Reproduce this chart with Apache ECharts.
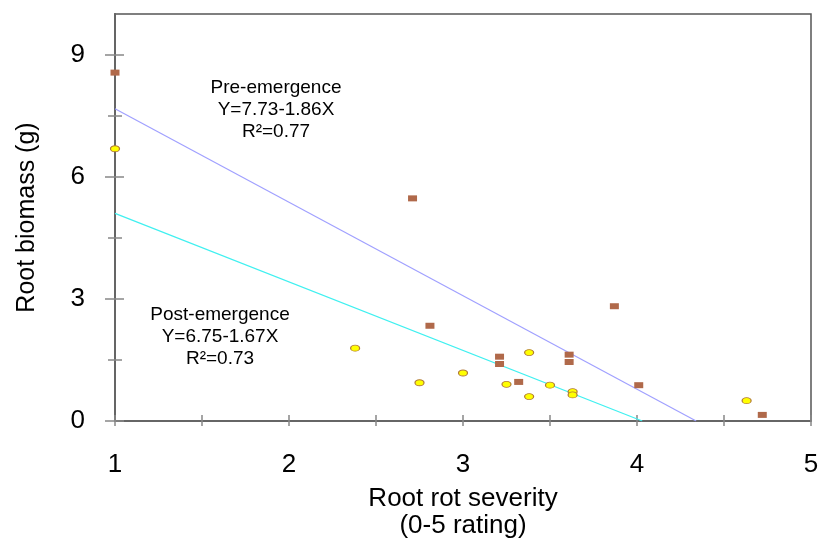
<!DOCTYPE html>
<html>
<head>
<meta charset="utf-8">
<script src="https://cdn.jsdelivr.net/npm/echarts@6/dist/echarts.min.js"></script>
<style>
  html, body { margin: 0; padding: 0; background: #fff; }
  #chart { width: 824px; height: 545px; }
</style>
</head>
<body>
<div id="chart"></div>
<script>
// pre-emergence points (squares)
var preX = [1.00, 2.71, 2.81, 3.21, 3.21, 3.32, 3.61, 3.61, 3.87, 4.01, 4.72];
var preY = [8.56, 5.47, 2.34, 1.58, 1.40, 0.96, 1.63, 1.45, 2.82, 0.88, 0.15];
// post-emergence points (circles)
var postX = [1.00, 2.38, 2.75, 3.00, 3.25, 3.38, 3.38, 3.50, 3.63, 3.63, 4.63];
var postY = [6.69, 1.79, 0.94, 1.18, 0.90, 1.68, 0.60, 0.88, 0.72, 0.64, 0.50];
// fitted lines as drawn
var preLine = [[1, 7.67], [4.34, 0]];
var postLine = [[1, 5.10], [4.03, 0]];

var xMajor = [1, 2, 3, 4, 5];
var xTicks = [1, 1.5, 2, 2.5, 3, 3.5, 4, 4.5, 5];
var yMajor = [0, 3, 6, 9];
var yMinor = [1.5, 4.5, 7.5];

var axisGray = '#666';
var tickGray = '#888';
var font = 'Liberation Sans, Arial, sans-serif';

function zip(xs, ys) {
  return xs.map(function (x, i) { return [x, ys[i]]; });
}

function yAx(ticks, inside, len, extra) {
  var a = {
    type: 'value', min: 0, max: 10, position: 'left',
    axisLine: { show: true, onZero: false, lineStyle: { color: axisGray, width: 1.5 } },
    axisTick: { show: true, inside: inside, length: len, customValues: ticks, lineStyle: { color: tickGray, width: 1.5 } },
    axisLabel: { show: false },
    splitLine: { show: false }
  };
  return Object.assign(a, extra || {});
}

function xAx(inside, len, extra) {
  var a = {
    type: 'value', min: 1, max: 5, position: 'bottom',
    axisLine: { show: true, onZero: false, lineStyle: { color: axisGray, width: 1.5 } },
    axisTick: { show: true, inside: inside, length: len, customValues: xTicks, lineStyle: { color: tickGray, width: 1.5 } },
    axisLabel: { show: false },
    splitLine: { show: false }
  };
  return Object.assign(a, extra || {});
}

function note(cx, top, text) {
  return {
    type: 'text', x: cx, y: top, z: 10,
    style: {
      text: text, x: 0, y: 0, align: 'center', verticalAlign: 'top',
      font: '19px ' + font, lineHeight: 22, fill: '#000'
    }
  };
}

var chart = echarts.init(document.getElementById('chart'));

var option = {
  backgroundColor: '#fff',
  animation: false,
  grid: {
    left: 115, right: 13, top: 14, bottom: 124,
    show: true, borderColor: '#555', borderWidth: 1.5, backgroundColor: '#fff'
  },
  xAxis: [
    xAx(true, 6, {
      name: 'Root rot severity\n(0-5 rating)',
      nameLocation: 'middle',
      nameGap: 64,
      nameTextStyle: { fontFamily: font, fontSize: 26, color: '#000', lineHeight: 27 },
      axisLabel: {
        show: true, customValues: xMajor, margin: 31,
        fontFamily: font, fontSize: 26, color: '#000'
      }
    }),
    xAx(false, 5)
  ],
  yAxis: [
    yAx(yMajor, true, 9, {
      name: 'Root biomass (g)',
      nameLocation: 'middle',
      nameGap: 75,
      nameTextStyle: { fontFamily: font, fontSize: 25, color: '#000' },
      axisLabel: {
        show: true, customValues: yMajor, margin: 30,
        fontFamily: font, fontSize: 26, color: '#000'
      }
    }),
    yAx(yMajor, false, 10),
    yAx(yMinor, true, 7),
    yAx(yMinor, false, 7)
  ],
  graphic: [
    note(276, 77, 'Pre-emergence\nY=7.73-1.86X\nR²=0.77'),
    note(220, 304, 'Post-emergence\nY=6.75-1.67X\nR²=0.73')
  ],
  series: [
    {
      name: 'Pre-emergence fit', type: 'line', data: preLine,
      symbol: 'none', silent: true,
      lineStyle: { color: '#a0a0ff', width: 1.2 }, z: 2
    },
    {
      name: 'Post-emergence fit', type: 'line', data: postLine,
      symbol: 'none', silent: true,
      lineStyle: { color: '#40f0f0', width: 1.2 }, z: 2
    },
    {
      name: 'Pre-emergence', type: 'scatter', data: zip(preX, preY),
      symbol: 'rect', symbolSize: [9, 6],
      itemStyle: { color: '#b0694a', opacity: 1 }, z: 3
    },
    {
      name: 'Post-emergence', type: 'scatter', data: zip(postX, postY),
      symbol: 'path://M0,1A1,1 0 1,0 2,1A1,1 0 1,0 0,1Z', symbolSize: [9, 6],
      itemStyle: { color: '#ffff00', borderColor: '#b07838', borderWidth: 1, opacity: 1 }, z: 3
    }
  ]
};

chart.setOption(option);
</script>
</body>
</html>
